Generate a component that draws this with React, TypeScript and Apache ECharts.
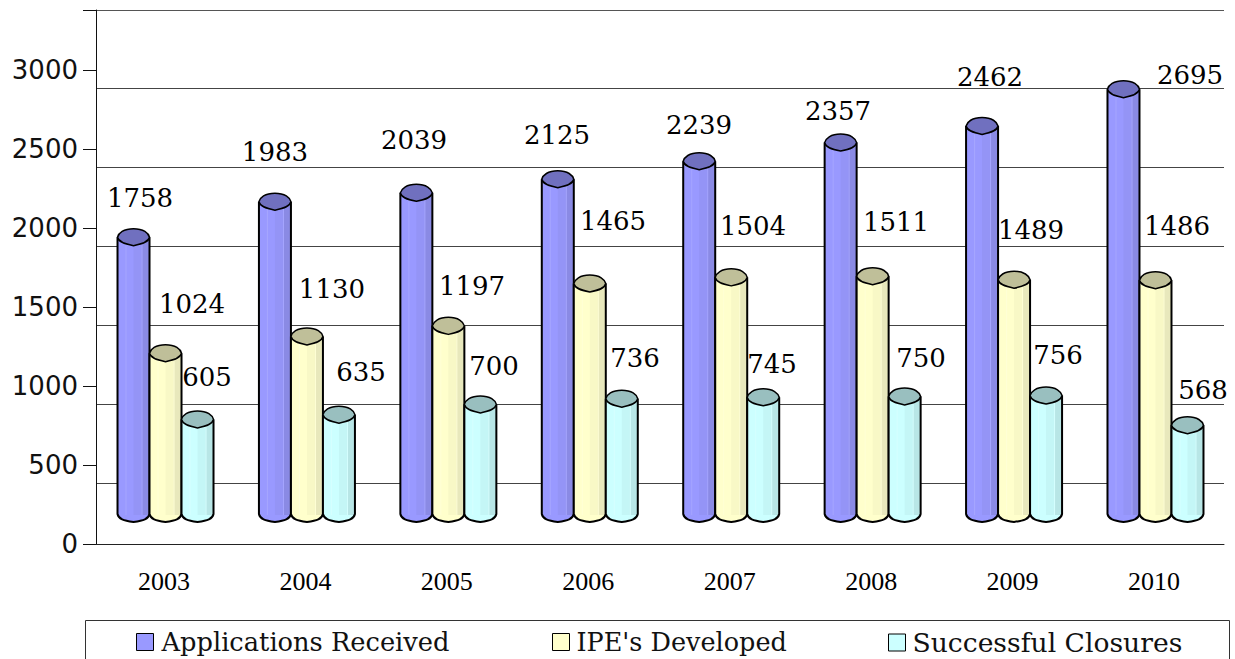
import React, { useEffect, useRef } from "react";
import * as echarts from "echarts";

const years = ["2003", "2004", "2005", "2006", "2007", "2008", "2009", "2010"];
const applications = [1758, 1983, 2039, 2125, 2239, 2357, 2462, 2695];
const ipes = [1024, 1130, 1197, 1465, 1504, 1511, 1489, 1486];
const closures = [605, 635, 700, 736, 745, 750, 756, 568];

// hand-placed data label nudges relative to each cylinder's top centre
const appLabelDx = [6.5, 0, -2.4, -0.8, -0.2, -2.6, 7.9, 66.5];
const appLabelDy = [-39, -50, -53, -44, -36, -32, -49, -14];
const ipeLabelDx = [26.5, 25, 23.6, 23.2, 21.8, 23.4, 16.9, 21.5];
const ipeLabelDy = [-49, -47.5, -40, -62.5, -51.4, -54.3, -49.7, -54.2];
const cloLabelDx = [9.5, 22, 13.6, 13.2, 8.8, 16.4, 11.9, 15.5];
const cloLabelDy = [-42.4, -42.7, -38.4, -40.7, -33.3, -38.5, -40.6, -35.3];

const SERIF = "'DejaVu Serif'";
const R = 16;
const RY = 8.5;

function cylinderSeries(
  name: string,
  values: number[],
  slot: number,
  dxs: number[],
  dys: number[],
  colors: { left: string; mid: string; right: string; hi: string; top: string; base: string }
) {
  return {
    type: "custom",
    name,
    xAxisIndex: 2,
    yAxisIndex: 2,
    itemStyle: { color: colors.base },
    clip: false,
    data: values.map((v, i) => [i, v]),
    encode: { x: 0, y: 1 },
    renderItem: (_p: any, api: any) => {
      const idx = api.value(0);
      const val = api.value(1);
      const top = api.coord([idx, val]);
      const base = api.coord([idx, 0]);
      const cx = top[0] + slot * 32;
      const yT = top[1];
      const yB = base[1];
      const l = cx - R;
      const w = R * 2;
      const stripe = (x: number, wd: number, fill: string) => ({
        type: "rect",
        shape: { x: l + x, y: yT, width: wd, height: yB - yT },
        style: { fill },
      });
      const outline =
        `M ${l} ${yT} L ${l} ${yB - 1} ` +
        `C ${l + 1} ${yB + 4} ${cx - 10} ${yB + 5.5} ${cx} ${yB + RY - 1.5} ` +
        `C ${cx + 10} ${yB + 5.5} ${cx + R - 1} ${yB + 4} ${cx + R} ${yB - 1} ` +
        `L ${cx + R} ${yT}`;
      const bottomFill = outline + " Z";
      const cap =
        `M ${l} ${yT} C ${l + 1} ${yT - 4} ${cx - 10} ${yT - RY} ${cx} ${yT - RY} ` +
        `C ${cx + 10} ${yT - RY} ${cx + R - 1} ${yT - 4} ${cx + R} ${yT} ` +
        `C ${cx + R - 1} ${yT + 4.5} ${cx + 10} ${yT + 6.5} ${cx} ${yT + RY} ` +
        `C ${cx - 10} ${yT + 6.5} ${l + 1} ${yT + 4.5} ${l} ${yT} Z`;
      return {
        type: "group",
        children: [
          {
            type: "path",
            shape: { pathData: bottomFill, x: l, y: yT, width: w, height: yB - yT + RY - 1.5, layout: "cover" },
            style: { fill: colors.left },
          },
          stripe(0, 16, colors.left),
          stripe(16, 8, colors.mid),
          stripe(24, 8, colors.right),
          stripe(8, 1, colors.hi),
          stripe(24, 1, colors.hi),
          {
            type: "path",
            shape: { pathData: outline, x: l, y: yT, width: w, height: yB - yT + RY - 1.5, layout: "cover" },
            style: { fill: "none", stroke: "#000", lineWidth: 2 },
          },
          {
            type: "path",
            shape: { pathData: cap, x: l, y: yT - RY, width: w, height: RY * 2, layout: "cover" },
            style: { fill: colors.top, stroke: "#000", lineWidth: 1.5 },
          },
          {
            type: "text",
            x: cx + dxs[idx],
            y: yT + dys[idx],
            z2: 50,
            style: {
              text: String(val),
              fill: "#000",
              font: `26px ${SERIF}`,
              align: "center",
              verticalAlign: "middle",
            },
          },
        ],
      };
    },
  };
}

function legendFor(name: string, left: number, fontSize: number, gap: number) {
  return {
    left,
    top: 629,
    padding: 0,
    icon: "rect",
    itemWidth: 17,
    itemHeight: 17,
    itemStyle: { borderColor: "#000", borderWidth: 1 },
    textStyle: { fontFamily: SERIF, fontSize, color: "#111", padding: [0, 0, 4, gap] },
    data: [name],
  };
}

export default function App() {
  const ref = useRef<HTMLDivElement>(null);
  useEffect(() => {
    document.body.style.margin = "0";
    const chart = echarts.init(ref.current!, undefined, { renderer: "svg" });
    const hiddenY = {
      type: "value",
      min: 0,
      interval: 500,
      axisLabel: { show: false },
      axisTick: { show: false },
      axisLine: { show: false },
    };
    chart.setOption({
      animation: false,
      backgroundColor: "#fff",
      grid: [
        { left: 96, right: 11, top: 10, height: 534 },
        { left: 96, right: 11, top: 28, height: 534 },
        { left: 94.8, right: 8.8, top: 0, height: 515 },
      ],
      xAxis: [
        {
          gridIndex: 0,
          type: "category",
          data: years,
          axisLabel: { show: false },
          axisLine: { lineStyle: { color: "#222" } },
          axisTick: { length: 12, lineStyle: { color: "#222" } },
        },
        { gridIndex: 1, type: "category", data: years, show: false },
        {
          gridIndex: 2,
          type: "category",
          data: years,
          axisLine: { show: false },
          axisTick: { show: false },
          axisLabel: {
            margin: 53,
            padding: [0, 3, 0, 0],
            color: "#000",
            fontFamily: "'Liberation Serif'",
            fontSize: 26,
          },
        },
      ],
      yAxis: [
        {
          gridIndex: 0,
          type: "value",
          min: 0,
          max: 3380,
          interval: 500,
          axisLine: { show: true, lineStyle: { color: "#111" } },
          axisTick: { show: true, length: 13, lineStyle: { color: "#111" } },
          splitLine: { show: false },
          axisLabel: {
            margin: 18,
            color: "#111",
            fontFamily: "'DejaVu Sans'",
            fontSize: 26,
            formatter: (v: number) => (v > 3000 ? "" : String(v)),
          },
        },
        {
          ...hiddenY,
          max: 3380,
          gridIndex: 1,
          splitLine: {
            show: true,
            showMinLine: false,
            showMaxLine: false,
            lineStyle: { color: "#444", width: 1 },
          },
        },
        { ...hiddenY, max: 3259.5, gridIndex: 2, splitLine: { show: false } },
      ],
      legend: [
        legendFor("Applications Received", 136, 25.7, 3),
        legendFor("IPE's Developed", 552, 25.5, 2),
        legendFor("Successful Closures", 888, 26.6, 2),
      ],
      graphic: [
        {
          type: "line",
          shape: { x1: 96, y1: 10.5, x2: 1224, y2: 10.5 },
          style: { stroke: "#555", lineWidth: 1 },
        },
        {
          type: "rect",
          shape: { x: 85.5, y: 620.5, width: 1144, height: 60 },
          style: { fill: "transparent", stroke: "#333", lineWidth: 1 },
          silent: true,
        },
      ],
      series: [
        cylinderSeries("Applications Received", applications, -1, appLabelDx, appLabelDy, {
          left: "#9999ff",
          mid: "#9494f6",
          right: "#8a8ae4",
          hi: "#a6a6ff",
          top: "#7070bf",
          base: "#9999ff",
        }),
        cylinderSeries("IPE's Developed", ipes, 0, ipeLabelDx, ipeLabelDy, {
          left: "#ffffcc",
          mid: "#f8f8c6",
          right: "#e8e8bc",
          hi: "#ffffd6",
          top: "#bfbf99",
          base: "#ffffcc",
        }),
        cylinderSeries("Successful Closures", closures, 1, cloLabelDx, cloLabelDy, {
          left: "#ccffff",
          mid: "#c4f6f6",
          right: "#b8e6e6",
          hi: "#d6ffff",
          top: "#99bfbf",
          base: "#ccffff",
        }),
      ],
    });
    return () => chart.dispose();
  }, []);
  return <div ref={ref} style={{ position: "absolute", left: 0, top: 0, width: 1235, height: 659 }} />;
}
